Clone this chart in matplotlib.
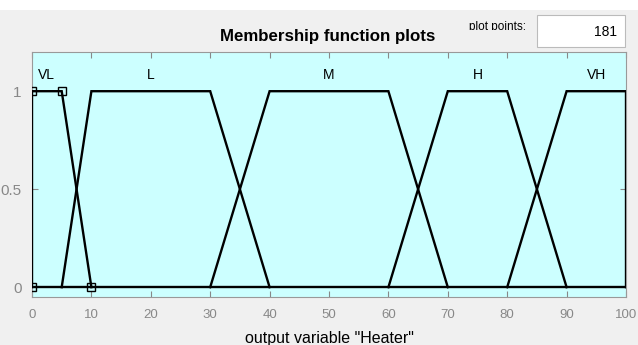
import matplotlib.pyplot as plt
from matplotlib.patches import Rectangle

# membership functions of output "Heater" (trapezoids)
names = ['VL', 'L', 'M', 'H', 'VH']
params = [[0, 0, 5, 10],
          [5, 10, 30, 40],
          [30, 40, 60, 70],
          [60, 70, 80, 90],
          [80, 90, 100, 100]]
label_x = [2.5, 20, 50, 75, 95]
xticks = [0, 10, 20, 30, 40, 50, 60, 70, 80, 90, 100]
yticks = [0, 0.5, 1]
plot_points = 181

W, H = 638, 345
fig = plt.figure(figsize=(W / 100, H / 100), dpi=100)
fig.patch.set_facecolor('#f0f0f0')
fig.patches.append(Rectangle((0, 1 - 10 / H), 1, 10 / H, transform=fig.transFigure,
                             facecolor='white', edgecolor='none', zorder=0))

ax = fig.add_axes([32 / W, 1 - 297 / H, (626 - 32) / W, (297 - 52) / H])
ax.set_facecolor('#ccffff')
ax.set_xlim(0, 100)
ax.set_ylim(-0.05, 1.2)

ax.axhline(0, color='black', lw=1.7, zorder=2)
for name, p, lx in zip(names, params, label_x):
    ax.plot(p, [0, 1, 1, 0], color='black', lw=1.7, solid_joinstyle='miter', zorder=3)
    ax.text(lx, 1.085, name, ha='center', va='center', fontsize=10, family='Liberation Sans')

# selected MF shown with square handles
sel = params[0]
ax.plot([sel[0], sel[2]], [1, 1], ls='none', marker='s', ms=6, mfc='none', mec='black', mew=1, zorder=4)
ax.plot([sel[1], sel[3]], [0, 0], ls='none', marker='s', ms=6, mfc='none', mec='black', mew=1, zorder=4)

ax.set_xticks(xticks)
ax.set_yticks(yticks)
ax.set_yticklabels(['0', '0.5', '1'])
ax.tick_params(direction='in', length=4, top=True, right=True, colors='#888888',
               labelcolor='#888888')
ax.tick_params(axis='x', labelsize=9.5, pad=9)
ax.tick_params(axis='y', labelsize=11, pad=7.5)
for lab in ax.get_xticklabels() + ax.get_yticklabels():
    lab.set_family('Liberation Sans')
for s in ax.spines.values():
    s.set_color('#999999')
ax.set_xlabel('output variable "Heater"', fontsize=11.5, family='Liberation Sans')
ax.xaxis.set_label_coords(0.5, (297 - 331) / 245)

fig.text(328 / W, 1 - 37 / H, 'Membership function plots', ha='center', va='center',
         fontsize=12.2, fontweight='bold', family='Liberation Sans')
pp = fig.text(526 / W, 1 - 27 / H, 'plot points:', ha='right', va='center', fontsize=8.5,
              family='Liberation Sans')
clip = Rectangle((440 / W, 1 - 30 / H), 100 / W, 20 / H, transform=fig.transFigure)
pp.set_clip_path(clip)
fig.patches.append(Rectangle((537 / W, 1 - 47 / H), 88 / W, 32 / H, transform=fig.transFigure,
                             facecolor='white', edgecolor='#bbbbbb', lw=0.8))
fig.text(617 / W, 1 - 32 / H, str(plot_points), ha='right', va='center', fontsize=10,
         family='Liberation Sans')

plt.savefig('out.png', dpi=100)
